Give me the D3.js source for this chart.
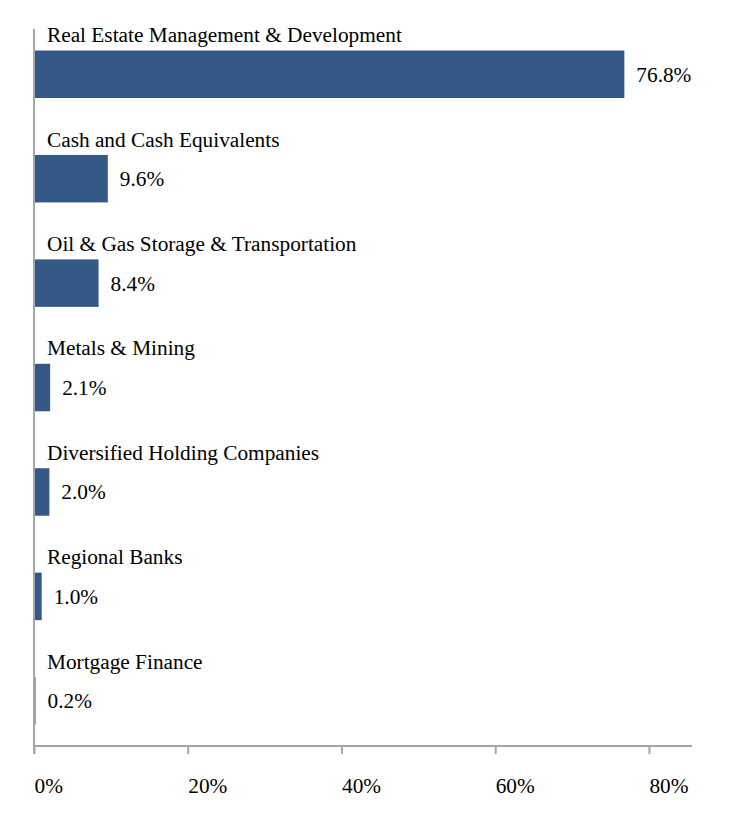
<!DOCTYPE html>
<html>
<head>
<meta charset="utf-8">
<script src="https://cdn.jsdelivr.net/npm/d3@7"></script>
<style>
  body { margin: 0; background: #fff; }
  svg { display: block; font-family: "Liberation Serif", "Times New Roman", serif; }
</style>
</head>
<body>
<svg width="732" height="840"></svg>
<script>
const categories = [
  'Real Estate Management & Development',
  'Cash and Cash Equivalents',
  'Oil & Gas Storage & Transportation',
  'Metals & Mining',
  'Diversified Holding Companies',
  'Regional Banks',
  'Mortgage Finance'
];
const values = [76.8, 9.6, 8.4, 2.1, 2.0, 1.0, 0.2];
const ticks = [0, 20, 40, 60, 80];

const svg = d3.select('svg');
const mLeft = 34, mRight = 692, mTop = 15, mBottom = 746;
const fs = 21.3;

const x = d3.scaleLinear().domain([0, 85.6]).range([mLeft, mRight]);
const y = d3.scaleBand().domain(categories).range([mTop, mBottom]);
const bw = y.bandwidth();

const rows = categories.map((c, i) => ({ cat: c, val: values[i] }));

// bars
svg.selectAll('rect.bar').data(rows).enter().append('rect')
  .attr('class', 'bar')
  .attr('x', x(0))
  .attr('y', d => y(d.cat) + bw * 0.34)
  .attr('width', d => x(d.val) - x(0))
  .attr('height', bw * 0.455)
  .attr('fill', '#355987');

// category labels
svg.selectAll('text.cat').data(rows).enter().append('text')
  .attr('class', 'cat')
  .attr('x', 47)
  .attr('y', d => y(d.cat) + bw * 0.26)
  .attr('font-size', fs)
  .attr('fill', '#000')
  .text(d => d.cat);

// value labels
svg.selectAll('text.val').data(rows).enter().append('text')
  .attr('class', 'val')
  .attr('x', d => x(d.val) + 12)
  .attr('y', d => y(d.cat) + bw * 0.34 + bw * 0.455 / 2)
  .attr('dy', '0.35em')
  .attr('font-size', fs)
  .attr('fill', '#000')
  .text(d => d.val.toFixed(1) + '%');

// axes
const xAxis = d3.axisBottom(x).tickValues(ticks).tickSize(8).tickFormat(d => d + '%');
const gx = svg.append('g').attr('transform', `translate(0,${mBottom})`).call(xAxis);
gx.attr('font-family', null);
gx.select('.domain').attr('stroke', '#a6a6a6').attr('stroke-width', 2)
  .attr('d', `M${mLeft},8V0H${mRight}`);
gx.selectAll('.tick line').attr('stroke', '#a6a6a6').attr('stroke-width', 2);
gx.selectAll('.tick text')
  .attr('font-size', fs)
  .attr('fill', '#000')
  .attr('text-anchor', 'start')
  .attr('y', 47)
  .attr('dy', 0);

svg.append('line')
  .attr('x1', mLeft).attr('x2', mLeft)
  .attr('y1', 29).attr('y2', mBottom)
  .attr('stroke', '#a6a6a6').attr('stroke-width', 2);
</script>
</body>
</html>
